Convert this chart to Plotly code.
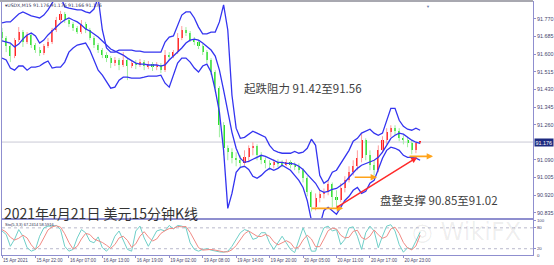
import plotly.graph_objects as go
from plotly.subplots import make_subplots

# ---------------- data ----------------
bar = list(range(101))

open_ = [91.707, 91.678, 91.639, 91.591, 91.668, 91.707, 91.659, 91.693, 91.644, 91.620,
         91.606, 91.639, 91.659, 91.717, 91.765, 91.794, 91.765, 91.746, 91.727, 91.707,
         91.746, 91.717, 91.678, 91.644, 91.620, 91.596, 91.581, 91.557, 91.572, 91.548,
         91.572, 91.543, 91.557, 91.548, 91.562, 91.543, 91.552, 91.538, 91.548, 91.523,
         91.596, 91.591, 91.610, 91.678, 91.717, 91.702, 91.668, 91.659, 91.639, 91.610,
         91.572, 91.514, 91.436, 91.257, 91.146, 91.127, 91.098, 91.088, 91.073, 91.102,
         91.146, 91.156, 91.112, 91.088, 91.073, 91.064, 91.078, 91.073, 91.069, 91.078,
         91.064, 91.059, 91.040, 91.001, 90.933, 90.861, 90.904, 90.923, 90.933, 90.972,
         90.909, 90.894, 90.952, 90.991, 91.030, 91.059, 91.098, 91.185, 91.112, 91.064,
         91.040, 91.136, 91.185, 91.223, 91.243, 91.228, 91.194, 91.185, 91.170, 91.136,
         91.176]
high = [91.727, 91.688, 91.649, 91.678, 91.731, 91.717, 91.707, 91.702, 91.654, 91.635,
        91.649, 91.678, 91.727, 91.780, 91.809, 91.804, 91.775, 91.756, 91.736, 91.765,
        91.756, 91.727, 91.688, 91.654, 91.630, 91.610, 91.591, 91.586, 91.581, 91.610,
        91.581, 91.572, 91.572, 91.577, 91.572, 91.567, 91.562, 91.562, 91.557, 91.620,
        91.610, 91.620, 91.702, 91.736, 91.731, 91.712, 91.683, 91.668, 91.649, 91.620,
        91.581, 91.523, 91.446, 91.272, 91.160, 91.146, 91.127, 91.112, 91.136, 91.160,
        91.175, 91.165, 91.127, 91.102, 91.088, 91.093, 91.093, 91.088, 91.093, 91.088,
        91.078, 91.073, 91.049, 91.011, 90.943, 90.928, 90.943, 90.952, 90.991, 90.981,
        90.943, 90.977, 91.011, 91.059, 91.088, 91.136, 91.219, 91.194, 91.136, 91.088,
        91.160, 91.204, 91.243, 91.257, 91.257, 91.243, 91.209, 91.199, 91.185, 91.175,
        91.176]
low = [91.659, 91.610, 91.562, 91.581, 91.659, 91.635, 91.649, 91.630, 91.606, 91.591,
       91.596, 91.630, 91.649, 91.707, 91.756, 91.751, 91.731, 91.712, 91.698, 91.698,
       91.702, 91.668, 91.630, 91.606, 91.581, 91.562, 91.533, 91.543, 91.523, 91.538,
       91.475, 91.533, 91.528, 91.538, 91.523, 91.528, 91.519, 91.523, 91.509, 91.514,
       91.572, 91.581, 91.601, 91.668, 91.688, 91.659, 91.644, 91.625, 91.596, 91.557,
       91.499, 91.417, 91.199, 91.112, 91.088, 91.073, 91.059, 91.049, 91.064, 91.078,
       91.112, 91.088, 91.069, 91.049, 91.040, 91.049, 91.054, 91.054, 91.059, 91.049,
       91.040, 91.025, 90.981, 90.914, 90.841, 90.846, 90.885, 90.904, 90.919, 90.861,
       90.856, 90.885, 90.933, 90.981, 91.015, 91.040, 91.078, 91.088, 91.040, 91.015,
       91.030, 91.122, 91.165, 91.199, 91.209, 91.180, 91.165, 91.151, 91.117, 91.122,
       91.166]
close = [91.678, 91.639, 91.591, 91.668, 91.707, 91.659, 91.693, 91.644, 91.620, 91.606,
         91.639, 91.659, 91.717, 91.765, 91.794, 91.765, 91.746, 91.727, 91.707, 91.746,
         91.717, 91.678, 91.644, 91.620, 91.596, 91.581, 91.557, 91.572, 91.548, 91.572,
         91.543, 91.557, 91.548, 91.562, 91.543, 91.552, 91.538, 91.548, 91.523, 91.596,
         91.591, 91.610, 91.678, 91.717, 91.702, 91.668, 91.659, 91.639, 91.610, 91.572,
         91.514, 91.436, 91.257, 91.146, 91.127, 91.098, 91.088, 91.073, 91.102, 91.146,
         91.156, 91.112, 91.088, 91.073, 91.064, 91.078, 91.073, 91.069, 91.078, 91.064,
         91.059, 91.040, 91.001, 90.933, 90.861, 90.904, 90.923, 90.933, 90.972, 90.909,
         90.894, 90.952, 90.991, 91.030, 91.059, 91.098, 91.185, 91.112, 91.064, 91.040,
         91.136, 91.185, 91.223, 91.243, 91.228, 91.194, 91.185, 91.170, 91.136, 91.172,
         91.176]

bb_upper = [91.751, 91.756, 91.756, 91.775, 91.794, 91.804, 91.794, 91.785, 91.780, 91.775,
            91.789, 91.814, 91.847, 91.881, 91.881, 91.828, 91.823, 91.818, 91.814, 91.814,
            91.804, 91.799, 91.818, 91.872, 91.717, 91.630, 91.610, 91.610, 91.620, 91.620,
            91.620, 91.620, 91.615, 91.615, 91.610, 91.610, 91.610, 91.610, 91.610, 91.659,
            91.683, 91.688, 91.741, 91.789, 91.804, 91.804, 91.775, 91.731, 91.698, 91.698,
            91.707, 91.707, 91.756, 91.838, 91.717, 91.402, 91.243, 91.194, 91.199, 91.214,
            91.228, 91.219, 91.209, 91.199, 91.160, 91.136, 91.127, 91.122, 91.122, 91.122,
            91.131, 91.122, 91.127, 91.146, 91.190, 91.160, 91.015, 90.977, 90.991, 91.030,
            91.040, 91.073, 91.102, 91.136, 91.180, 91.194, 91.219, 91.228, 91.238, 91.219,
            91.209, 91.219, 91.281, 91.339, 91.339, 91.281, 91.252, 91.238, 91.233, 91.243,
            91.233]
bb_mid = [91.664, 91.659, 91.654, 91.635, 91.649, 91.673, 91.693, 91.702, 91.688, 91.654,
          91.668, 91.693, 91.712, 91.731, 91.751, 91.765, 91.775, 91.765, 91.756, 91.741,
          91.722, 91.712, 91.698, 91.683, 91.664, 91.644, 91.625, 91.615, 91.606, 91.596,
          91.581, 91.567, 91.557, 91.552, 91.552, 91.548, 91.548, 91.548, 91.543, 91.548,
          91.572, 91.591, 91.610, 91.630, 91.654, 91.668, 91.673, 91.668, 91.654, 91.639,
          91.620, 91.591, 91.523, 91.427, 91.320, 91.223, 91.146, 91.098, 91.078, 91.083,
          91.093, 91.102, 91.112, 91.107, 91.098, 91.088, 91.078, 91.078, 91.073, 91.073,
          91.069, 91.059, 91.044, 91.020, 90.996, 90.977, 90.943, 90.933, 90.938, 90.948,
          90.952, 90.967, 90.981, 91.006, 91.030, 91.049, 91.064, 91.073, 91.078, 91.088,
          91.102, 91.127, 91.160, 91.194, 91.209, 91.219, 91.214, 91.199, 91.185, 91.175,
          91.170]
bb_lower = [91.581, 91.572, 91.533, 91.523, 91.543, 91.543, 91.523, 91.538, 91.538, 91.543,
            91.557, 91.567, 91.533, 91.538, 91.538, 91.562, 91.610, 91.630, 91.644, 91.649,
            91.654, 91.620, 91.572, 91.523, 91.499, 91.470, 91.436, 91.441, 91.475, 91.489,
            91.489, 91.485, 91.485, 91.485, 91.489, 91.494, 91.494, 91.494, 91.499, 91.460,
            91.441, 91.499, 91.557, 91.581, 91.581, 91.562, 91.533, 91.514, 91.543, 91.552,
            91.514, 91.427, 91.320, 91.136, 90.856, 90.928, 91.030, 91.054, 91.059, 91.044,
            91.011, 91.001, 91.015, 91.035, 91.049, 91.040, 91.049, 91.064, 91.054, 91.040,
            91.015, 90.991, 90.957, 90.894, 90.798, 90.749, 90.773, 90.846, 90.861, 90.846,
            90.827, 90.861, 90.894, 90.914, 90.943, 90.957, 90.928, 90.938, 90.977, 90.991,
            91.040, 91.098, 91.136, 91.151, 91.146, 91.136, 91.112, 91.102, 91.102, 91.098,
            91.088]

stoch_k = [71, 61, 27, 47, 75, 56, 23, 13, 18, 56, 80, 85, 85, 87, 75, 27, 13, 18, 51, 75,
           66, 42, 37, 54, 23, 13, 27, 56, 71, 42, 18, 13, 71, 85, 51, 27, 47, 71, 75, 71,
           87, 77, 87, 85, 80, 37, 18, 13, 18, 20, 16, 13, 11, 10, 13, 27, 47, 66, 75, 71,
           47, 51, 66, 66, 37, 18, 37, 56, 37, 18, 9, 47, 80, 51, 13, 13, 51, 80, 85, 71,
           75, 32, 47, 80, 83, 56, 18, 66, 85, 71, 23, 56, 85, 89, 71, 32, 10, 23, 18, 42,
           67.2414]
stoch_d = [75, 68, 53, 45, 50, 59, 51, 31, 18, 29, 51, 74, 83, 86, 82, 63, 38, 19, 27, 48,
           64, 61, 48, 44, 38, 30, 21, 32, 51, 56, 44, 24, 34, 56, 69, 54, 42, 48, 64, 72,
           78, 78, 84, 83, 84, 67, 45, 23, 16, 17, 18, 16, 13, 11, 11, 17, 29, 47, 63, 71,
           64, 56, 55, 61, 56, 40, 31, 37, 43, 37, 21, 25, 45, 59, 48, 26, 26, 48, 72, 79,
           77, 59, 51, 53, 70, 73, 52, 47, 56, 74, 60, 50, 55, 77, 82, 64, 38, 22, 17, 28,
           58.5916]

time_labels = ["15 Apr 2021", "15 Apr 22:00", "16 Apr 07:00", "16 Apr 13:00", "16 Apr 19:00",
               "19 Apr 02:00", "19 Apr 08:00", "19 Apr 14:00", "19 Apr 20:00", "20 Apr 05:00",
               "20 Apr 11:00", "20 Apr 17:00", "20 Apr 23:00"]
time_label_bars = [0, 8, 16, 24, 32, 40, 48, 56, 64, 72, 80, 88, 96]

price_ticks = [91.770, 91.685, 91.600, 91.515, 91.430, 91.345, 91.260,
               91.090, 91.005, 90.920, 90.835]
stoch_ticks = [100, 80, 20]
stoch_levels = [80, 20]
stoch_floor_label = "0"
last_price = 91.176

# drawn trend / support lines: (bar_start, price_start, bar_end, price_end)
orange_lines = [(73.7, 90.856, 81.6, 90.856),
                (84.0, 91.006, 89.7, 91.006),
                (97.1, 91.107, 103.1, 91.107)]
red_line = (79.7, 90.856, 99.3, 91.102)

# ---------------- figure ----------------
AX = "#8f8fcf"
LBL = "#44446e"
BLUE = "#3434f0"
UP_BODY, UP_WICK = "#ff1f1f", "#ff9d9d"
DN_BODY, DN_WICK = "#22dd22", "#9fee9f"

fig = make_subplots(rows=2, cols=1, shared_xaxes=True)

# candle wicks (lighter), split by direction
for is_up, wick_col in ((True, UP_WICK), (False, DN_WICK)):
    wx, wy = [], []
    for i, o, h, l, c in zip(bar, open_, high, low, close):
        if (c >= o) == is_up:
            wx += [i, i, None]
            wy += [l, h, None]
    fig.add_trace(go.Scatter(x=wx, y=wy, mode="lines", line=dict(color=wick_col, width=1),
                             showlegend=False, hoverinfo="skip"), row=1, col=1)

# candle bodies
body = [(c - o) if abs(c - o) > 0.0006 else 0.0012 for o, c in zip(open_, close)]
body_base = [o if abs(c - o) > 0.0006 else o - 0.0006 for o, c in zip(open_, close)]
body_col = [UP_BODY if c >= o else DN_BODY for o, c in zip(open_, close)]
fig.add_trace(go.Bar(x=bar, y=body, base=body_base, width=0.5,
                     marker=dict(color=body_col, line=dict(width=0)),
                     showlegend=False, hoverinfo="skip"), row=1, col=1)

for band in (bb_upper, bb_mid, bb_lower):
    fig.add_trace(go.Scatter(x=bar, y=band, mode="lines",
                             line=dict(color=BLUE, width=1.3),
                             showlegend=False, hoverinfo="skip"), row=1, col=1)

fig.add_trace(go.Scatter(x=bar, y=stoch_k, mode="lines",
                         line=dict(color="#6fcfc8", width=1), showlegend=False,
                         hoverinfo="skip"), row=2, col=1)
fig.add_trace(go.Scatter(x=bar, y=stoch_d, mode="lines",
                         line=dict(color="#f08a84", width=1), showlegend=False,
                         hoverinfo="skip"), row=2, col=1)

axis_common = dict(showgrid=False, zeroline=False, showline=True, mirror=True,
                   linecolor=AX, linewidth=1, automargin=False)

fig.update_layout(
    width=554, height=265,
    margin=dict(l=2, r=21, t=2, b=10, autoexpand=False),
    paper_bgcolor="white", plot_bgcolor="white",
    showlegend=False, bargap=0,
    font=dict(family="Liberation Sans, Arial, sans-serif", color=LBL),
    xaxis=dict(range=[0, 127], showticklabels=False, ticks="",
               rangeslider=dict(visible=False), **axis_common),
    xaxis2=dict(range=[0, 127], tickmode="array", tickvals=time_label_bars,
                ticktext=time_labels, ticks="outside", ticklen=2, tickcolor=AX,
                tickangle=0,
                tickfont=dict(size=4.6, color=LBL), ticklabelposition="outside right",
                rangeslider=dict(visible=False), **axis_common),
    yaxis=dict(domain=[0.1443, 1.0], range=[90.807, 91.852], side="right",
               tickmode="array", tickvals=price_ticks, tickformat=".3f",
               ticks="outside", ticklen=2, tickcolor=AX,
               tickfont=dict(size=5.4, color=LBL), **axis_common),
    yaxis2=dict(domain=[0.0, 0.1403], range=[2, 104], side="right",
                tickmode="array", tickvals=stoch_ticks,
                ticks="outside", ticklen=2, tickcolor=AX,
                tickfont=dict(size=4.4, color=LBL), **axis_common),
)

# current price line
fig.add_shape(type="line", xref="paper", x0=0, x1=1, yref="y", y0=last_price, y1=last_price,
              line=dict(color="#c9c9d6", width=1), layer="below")
# stochastic levels
for lv in stoch_levels:
    fig.add_shape(type="line", xref="paper", x0=0, x1=1, yref="y2", y0=lv, y1=lv,
                  line=dict(color="#b9b9cc", width=1, dash="dot"), layer="below")
# top grey strip
fig.add_shape(type="rect", xref="paper", yref="paper", x0=-0.01, x1=1.0, y0=1.0, y1=1.012,
              fillcolor="#a8a8b0", line=dict(width=0))

# trend lines as arrows
for (xa, ya, xb, yb) in orange_lines:
    fig.add_annotation(x=xb, y=yb, ax=xa, ay=ya, xref="x", yref="y", axref="x", ayref="y",
                       showarrow=True, arrowhead=2, arrowsize=0.8, arrowwidth=1.6,
                       arrowcolor="#ffa31a", text="")
xa, ya, xb, yb = red_line
fig.add_annotation(x=xb, y=yb, ax=xa, ay=ya, xref="x", yref="y", axref="x", ayref="y",
                   showarrow=True, arrowhead=2, arrowsize=0.8, arrowwidth=1.5,
                   arrowcolor="#ff2a2a", text="")

# current price tag
fig.add_annotation(x=1, xref="paper", xanchor="left", xshift=1, y=last_price, yref="y",
                   yanchor="middle", text=f"{last_price:.3f}", showarrow=False,
                   bgcolor="#1d2a80", font=dict(size=5.4, color="white"), borderpad=0.5)

# stochastic floor label
fig.add_annotation(x=1, xref="paper", xanchor="left", xshift=2, y=0.0, yref="paper",
                   yanchor="middle", text=stoch_floor_label, showarrow=False,
                   font=dict(size=4.4, color=LBL))

# header texts
fig.add_annotation(x=0.002, y=0.988, xref="paper", yref="paper", xanchor="left",
                   yanchor="middle", showarrow=False,
                   text="▾USDX,M15 91.176 91.176 91.166 91.176",
                   font=dict(size=4.6, color="#2c2c50", family="DejaVu Sans, sans-serif"))
fig.add_annotation(x=0.002, y=0.1225, xref="paper", yref="paper", xanchor="left",
                   yanchor="middle", showarrow=False,
                   text="Sto(5,3,3) 67.2414 58.5916",
                   font=dict(size=4.0, color="#2c2c50"))
fig.add_annotation(x=0.803, y=1.0, xref="paper", yref="paper", xanchor="center",
                   yanchor="top", showarrow=False, text="▼",
                   font=dict(size=4, color="#6a7aa8"))

CJK = "Noto Sans CJK SC, sans-serif"
fig.add_annotation(x=0.5669, y=0.660, xref="paper", yref="paper", showarrow=False,
                   xanchor="center", yanchor="middle",
                   text="起跌阻力 91.42至91.56", font=dict(size=11.5, color="#3f3f3f", family=CJK))
fig.add_annotation(x=0.823, y=0.2174, xref="paper", yref="paper", showarrow=False,
                   xanchor="center", yanchor="middle",
                   text="盘整支撑 90.85至91.02", font=dict(size=11.5, color="#3f3f3f", family=CJK))
fig.add_annotation(x=0.0, y=0.166, xref="paper", yref="paper", xanchor="left",
                   yanchor="middle", showarrow=False,
                   text="2021年4月21日 美元15分钟K线",
                   font=dict(size=14, color="#333333", family=CJK))

# watermark
fig.add_annotation(x=0.875, y=0.09, xref="paper", yref="paper", showarrow=False,
                   xanchor="center", yanchor="middle",
                   text="◎ WikiFX", font=dict(size=24, color="rgba(0,0,0,0.07)",
                                              family="DejaVu Sans, sans-serif"))

fig.write_html("out.html")
